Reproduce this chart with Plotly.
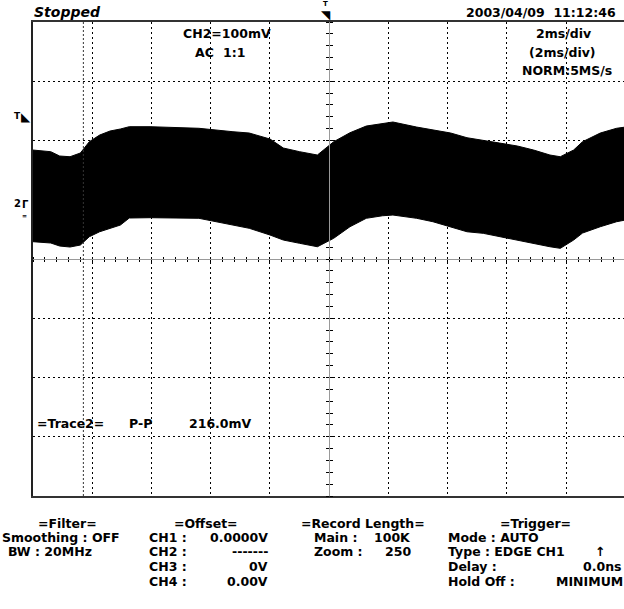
import plotly.graph_objects as go

# ---- data (time in ms relative to trigger, voltage in mV relative to CH2 ground)
time_ms = [-10.0, -9.4, -9.1, -8.75, -8.4, -8.1, -7.75, -7.4, -7.05, -6.75, -6.05, -4.4, -3.25, -2.7,
           -2.0, -1.55, -1.0, -0.4, 0.15, 0.7, 1.25, 1.8, 2.15, 2.95, 3.5, 4.1, 4.65, 5.2, 5.75, 6.35,
           6.9, 7.45, 7.8, 8.25, 8.55, 9.15, 9.7, 10.0]
upper_mv = [83.9, 81.1, 73.8, 72.6, 78.9, 97.9, 109.2, 116.0, 119.4, 123.3, 123.3, 120.6, 114.8, 112.6,
            102.5, 87.3, 81.1, 75.5, 97.9, 113.1, 124.4, 127.8, 131.2, 122.7, 117.7, 112.6, 104.7, 100.8,
            95.7, 90.7, 83.9, 75.5, 72.6, 83.9, 97.9, 112.6, 120.6, 122.7]
lower_mv = [-70.8, -73.0, -78.1, -79.8, -76.4, -62.4, -54.0, -47.7, -42.7, -30.8, -30.3, -31.3, -42.7, -48.2,
            -59.5, -68.0, -73.5, -79.3, -65.1, -45.5, -31.3, -27.0, -25.8, -31.3, -37.1, -45.5, -54.0, -56.7,
            -62.4, -68.0, -73.5, -79.3, -82.0, -68.0, -56.2, -45.5, -37.1, -34.2]

# screen settings
ms_per_div = 2
mv_per_div = 100
x_range = [-10, 9.95]
y_range = [-500, 300]
center_mv = -100
zoom_marker_ms = -8.3

# ---- layout geometry (pixels)
W, H = 624, 609
L, T, B = 33, 22, 113
PW = W - L
PH = H - T - B


def P(px, py):
    return (px - L) / PW, (H - B - py) / PH


FONT = "DejaVu Sans"
fig = go.Figure()

fig.add_trace(go.Scatter(x=time_ms, y=lower_mv, mode="lines", line=dict(color="black", width=1),
                         hoverinfo="skip", showlegend=False))
fig.add_trace(go.Scatter(x=time_ms, y=upper_mv, mode="lines", fill="tonexty", fillcolor="black",
                         line=dict(color="black", width=1), hoverinfo="skip", showlegend=False))
# empty traces to bind the centre-graticule axes
fig.add_trace(go.Scatter(x=[None], y=[None], xaxis="x2", yaxis="y2", showlegend=False, hoverinfo="skip"))
fig.add_trace(go.Scatter(x=[None], y=[None], xaxis="x3", yaxis="y3", showlegend=False, hoverinfo="skip"))

cx = (0 - x_range[0]) / (x_range[1] - x_range[0])
cy = (center_mv - y_range[0]) / (y_range[1] - y_range[0])

grid = dict(showgrid=True, gridcolor="#000", gridwidth=1, griddash="1.5px,3.5px", zeroline=False,
            showticklabels=False, ticks="", fixedrange=True)
fig.update_layout(
    width=W, height=H,
    margin=dict(l=L, r=0, t=T, b=B, pad=0),
    paper_bgcolor="white", plot_bgcolor="white",
    xaxis=dict(range=x_range, dtick=ms_per_div, tick0=0, showline=True, mirror=True,
               linecolor="#333", linewidth=1.5, **grid),
    yaxis=dict(range=y_range, dtick=mv_per_div, tick0=0, showline=True, mirror=False,
               linecolor="#222", linewidth=2, **grid),
    xaxis2=dict(range=x_range, overlaying="x", anchor="free", position=cy, side="bottom",
                showline=True, linecolor="#999", linewidth=1, ticks="outside", ticklen=2,
                tickcolor="black", tickwidth=1, dtick=ms_per_div / 5, tick0=0,
                showticklabels=False, showgrid=False, zeroline=False),
    yaxis2=dict(range=y_range, overlaying="y", anchor="free", position=cx, side="left",
                showline=True, linecolor="#999", linewidth=1, ticks="outside", ticklen=3,
                tickcolor="black", tickwidth=1, dtick=mv_per_div / 5, tick0=0,
                showticklabels=False, showgrid=False, zeroline=False),
    xaxis3=dict(range=x_range, overlaying="x", anchor="free", position=cy, side="top",
                showline=False, ticks="outside", ticklen=2, tickcolor="black", tickwidth=1,
                dtick=ms_per_div / 5, tick0=0, showticklabels=False, showgrid=False, zeroline=False),
    yaxis3=dict(range=y_range, overlaying="y", anchor="free", position=cx, side="right",
                showline=False, ticks="outside", ticklen=3, tickcolor="black", tickwidth=1,
                dtick=mv_per_div / 5, tick0=0, showticklabels=False, showgrid=False, zeroline=False),
    showlegend=False,
)

fig.add_shape(type="line", xref="x", yref="paper", x0=zoom_marker_ms, x1=zoom_marker_ms, y0=0, y1=1,
              line=dict(color="#333", width=1, dash="2px,2px"))

annots = []


def txt(s, px, py, anchor="left", size=12.5, bold=True, italic=False, font=FONT):
    x, y = P(px, py)
    annots.append(dict(text=s, x=x, y=y, xref="paper", yref="paper", xanchor=anchor, yanchor="middle",
                       showarrow=False, borderpad=0,
                       font=dict(family=font, size=size, color="black",
                                 weight="bold" if bold else "normal",
                                 style="italic" if italic else "normal")))


# header
txt("Stopped", 33, 12, size=14, italic=True)
txt("2003/04/09  11:12:46", 617, 12, anchor="right", size=12.5)
txt("T", 325, 4, anchor="center", size=7)
txt("◥", 326, 15, anchor="center", size=12, bold=False)

# on-screen readouts
txt("CH2=100mV", 182, 33)
txt("AC", 194, 52)
txt("1:1", 222, 52)
txt("2ms/div", 563, 33, anchor="center")
txt("(2ms/div)", 562, 52, anchor="center")
txt("NORM:5MS/s", 613, 70, anchor="right")
txt("=Trace2=", 36, 423)
txt("P-P", 128, 423)
txt("216.0mV", 188, 423)

# left markers
txt("T", 17, 116, anchor="center", size=9)
txt("◣", 26, 117, anchor="center", size=12, bold=False)
txt("2", 17, 203, anchor="center", size=10)
txt("Γ", 25, 204, anchor="center", size=10)
txt("=", 24, 215, anchor="center", size=6)

# bottom panel
row = [523, 537, 551, 566, 581]
bs = 12.5
txt("=Filter=", 67, row[0], anchor="center", size=bs)
txt("Smoothing : OFF", 1, row[1], size=bs)
txt("BW : 20MHz", 7, row[2], size=bs)

txt("=Offset=", 206, row[0], anchor="center", size=bs)
for i, (lab, val) in enumerate([("CH1 :", "0.0000V"), ("CH2 :", "-------"), ("CH3 :", "0V"), ("CH4 :", "0.00V")]):
    txt(lab, 148, row[i + 1], size=bs)
    txt(val, 269, row[i + 1], anchor="right", size=bs)

txt("=Record Length=", 300, row[0], size=bs)
txt("Main :", 313, row[1], size=bs)
txt("100K", 412, row[1], anchor="right", size=bs)
txt("Zoom :", 313, row[2], size=bs)
txt("250", 412, row[2], anchor="right", size=bs)

txt("=Trigger=", 535, row[0], anchor="center", size=bs)
txt("Mode : AUTO", 447, row[1], size=bs)
txt("Type : EDGE CH1", 447, row[2], size=bs)
txt("↑", 600, row[2], anchor="center", size=bs)
txt("Delay :", 447, row[3], size=bs)
txt("0.0ns", 622, row[3], anchor="right", size=bs)
txt("Hold Off :", 447, row[4], size=bs)
txt("MINIMUM", 624, row[4], anchor="right", size=bs)

fig.update_layout(annotations=annots)
fig.write_html("out.html")
